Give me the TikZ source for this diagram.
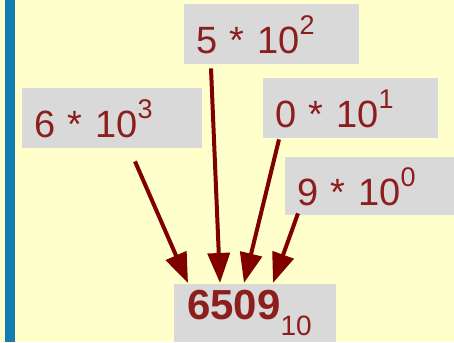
\documentclass[tikz,border=0pt]{standalone}
\usepackage{fontspec}
\setmainfont{Liberation Sans}
\usetikzlibrary{arrows.meta}

\definecolor{bgyellow}{RGB}{255,255,204}
\definecolor{boxgray}{RGB}{217,217,217}
\definecolor{digitred}{RGB}{140,30,30}
\definecolor{arrowred}{RGB}{128,0,0}
\definecolor{barblue}{RGB}{20,125,175}

\newcommand{\pw}[1]{\raisebox{19pt}{\fontsize{27}{27}\selectfont #1}}
\newcommand{\base}[1]{\raisebox{-16pt}{\fontsize{28}{28}\selectfont\mdseries #1}}

\tikzset{
  term/.style={fill=boxgray,text=digitred,anchor=north west,align=left,
    inner xsep=12pt,inner ysep=0pt,text height=49pt,text depth=11pt,
    font=\fontsize{38}{40}\selectfont},
  power/.style={arrowred,line width=4pt,-{Triangle[length=30pt,width=22pt]}}
}

\begin{document}
\begin{tikzpicture}[x=1pt,y=-1pt]
  \useasboundingbox (0,0) rectangle (454,342);
  \fill[bgyellow] (0,0) rectangle (454,342);
  \fill[barblue] (5,0) rectangle (15,342);
  \node[term,text width=151pt] (t2) at (184,4) {5 * 10\pw{2}};
  \node[term,text width=156pt] (t3) at (22,88) {6 * 10\pw{3}};
  \node[term,text width=151pt] (t1) at (263,78) {0 * 10\pw{1}};
  \node[term,text width=145pt,text height=48pt,text depth=10pt] (t0) at (285,157) {9 * 10\pw{0}};
  \node[term,text width=136pt,inner xsep=13pt,text height=35pt,text depth=23pt] (res) at (174,284)
    {\fontsize{42}{42}\selectfont\bfseries 6509\base{10}};
  \draw[power] ([xshift=113pt,yshift=-13pt]t3.south west) -- ([xshift=14pt,yshift=1pt]res.north west);
  \draw[power] ([xshift=27pt,yshift=-4pt]t2.south west) -- ([xshift=46pt,yshift=1pt]res.north west);
  \draw[power] ([xshift=16pt,yshift=-1pt]t1.south west) -- ([xshift=70pt,yshift=1pt]res.north west);
  \draw[power] ([xshift=13pt,yshift=2pt]t0.south west) -- ([xshift=99pt,yshift=1pt]res.north west);
\end{tikzpicture}
\end{document}
